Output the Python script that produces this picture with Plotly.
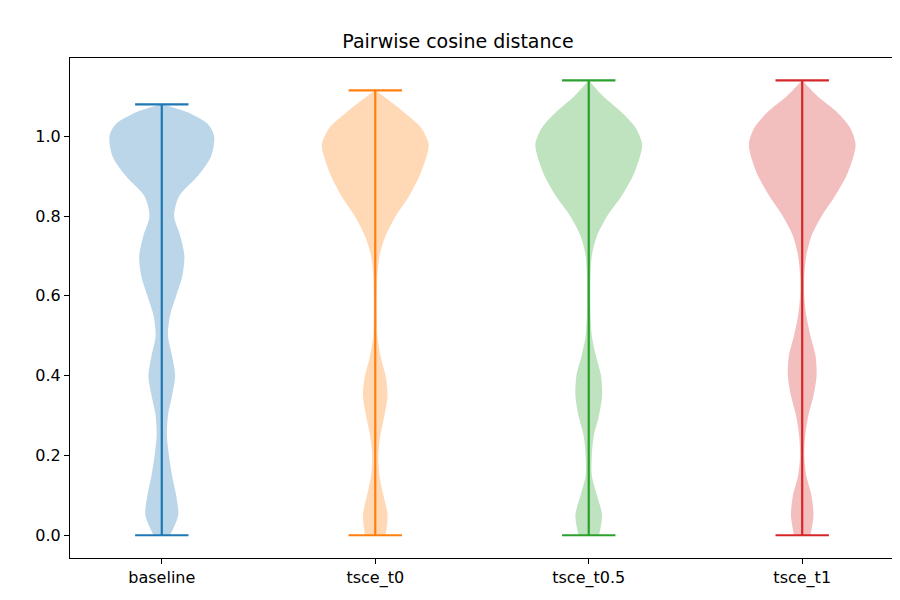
import plotly.graph_objects as go

labels = ["baseline", "tsce_t0", "tsce_t0.5", "tsce_t1"]
colors = ["#1f77b4", "#ff7f0e", "#2ca02c", "#d62728"]
fills = ["rgba(31,119,180,0.3)", "rgba(255,127,14,0.3)", "rgba(44,160,44,0.3)", "rgba(214,39,40,0.3)"]
mins = [0.0, 0.0, 0.0, 0.0]
maxs = [1.08, 1.115, 1.14, 1.14]

# density profile: y levels and relative half-width (52 = widest)
base_y = [0.0, 0.05, 0.1, 0.15, 0.2, 0.25, 0.3, 0.35, 0.4, 0.45, 0.5, 0.55, 0.6, 0.65, 0.7, 0.75, 0.8, 0.85, 0.9, 0.95, 1.0, 1.03, 1.06, 1.08]
base_w = [8, 16, 14, 10, 7, 5, 6, 10, 13, 10, 6, 8, 14, 20, 22, 18, 12, 17, 35, 48, 51, 45, 25, 0]
t0_y = [0.0, 0.05, 0.1, 0.15, 0.2, 0.25, 0.3, 0.35, 0.4, 0.45, 0.5, 0.55, 0.6, 0.65, 0.7, 0.75, 0.8, 0.85, 0.9, 0.95, 0.98, 1.02, 1.06, 1.1, 1.115]
t0_w = [10, 12, 8, 4, 3, 5, 9, 12, 10, 5, 2, 1.5, 1.5, 2, 4, 10, 20, 33, 43, 50, 52, 45, 28, 8, 0]
t05_y = [0.0, 0.05, 0.1, 0.15, 0.2, 0.25, 0.3, 0.35, 0.4, 0.45, 0.5, 0.6, 0.7, 0.75, 0.8, 0.85, 0.9, 0.95, 0.98, 1.02, 1.06, 1.1, 1.14]
t05_w = [10, 13, 8, 3, 3, 5, 10, 13, 12, 7, 3, 1.5, 3, 8, 18, 32, 43, 50, 52, 46, 32, 14, 0]
t1_y = [0.0, 0.05, 0.1, 0.15, 0.2, 0.25, 0.3, 0.35, 0.4, 0.45, 0.5, 0.55, 0.6, 0.65, 0.7, 0.75, 0.8, 0.85, 0.9, 0.95, 0.98, 1.02, 1.06, 1.1, 1.14]
t1_w = [8, 11, 9, 4, 2, 3, 6, 11, 14, 13, 8, 4, 2, 2, 4, 9, 19, 32, 43, 50, 52, 47, 34, 15, 0]

profiles = [(base_y, base_w), (t0_y, t0_w), (t05_y, t05_w), (t1_y, t1_w)]

fig = go.Figure()
for i, (ys, ws) in enumerate(profiles):
    pos = i + 1
    hw = [w / 52 * 0.25 for w in ws]
    xs = [pos + h for h in hw] + [pos - h for h in hw[::-1]]
    yy = ys + ys[::-1]
    fig.add_trace(go.Scatter(x=xs, y=yy, fill="toself", fillcolor=fills[i],
                             line=dict(width=0, shape="spline", smoothing=0.8),
                             mode="lines", hoverinfo="skip"))
    # vertical bar and caps
    fig.add_trace(go.Scatter(x=[pos, pos], y=[mins[i], maxs[i]], mode="lines",
                             line=dict(color=colors[i], width=2.2)))
    for v in (mins[i], maxs[i]):
        fig.add_trace(go.Scatter(x=[pos - 0.125, pos + 0.125], y=[v, v], mode="lines",
                                 line=dict(color=colors[i], width=2.2)))

axis_style = dict(showline=True, linecolor="black", linewidth=1, mirror=True,
                  ticks="outside", ticklen=5, tickcolor="black", showgrid=False, zeroline=False,
                  tickfont=dict(size=16, color="black"))
fig.update_xaxes(range=[0.57, 4.43], tickvals=[1, 2, 3, 4], ticktext=labels, **axis_style)
fig.update_yaxes(range=[-0.057, 1.196], tickvals=[0, 0.2, 0.4, 0.6, 0.8, 1.0],
                 tickformat=".1f", **axis_style)
fig.update_layout(
    width=900, height=600, showlegend=False,
    plot_bgcolor="white", paper_bgcolor="white",
    font=dict(family="DejaVu Sans", color="black"),
    title=dict(text="Pairwise cosine distance", x=0.5, xanchor="center", y=0.955, font=dict(size=19)),
    margin=dict(l=62, r=14, t=50, b=50),
)
fig.write_html("out.html")
